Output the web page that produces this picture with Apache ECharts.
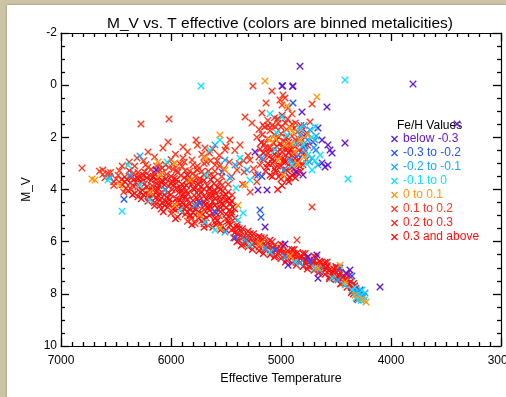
<!DOCTYPE html>
<html><head><meta charset="utf-8">
<script src="https://cdn.jsdelivr.net/npm/echarts@6/dist/echarts.min.js"></script>
<style>
html,body{margin:0;padding:0;background:#cbc5a6;width:506px;height:397px;overflow:hidden;}
#panel{position:absolute;left:7px;top:5px;width:499px;height:392px;background:#fff;box-shadow:0 0 2px rgba(0,0,0,0.35);}
#c{position:absolute;left:0;top:0;width:506px;height:397px;}
</style>
</head><body><div id="panel"></div><div id="c"></div>
<script>
const chartTitle = 'M_V vs. T effective (colors are binned metalicities)';
const xName = 'Effective Temperature';
const yName = 'M_V';
const legendTitle = 'Fe/H Values';
const binLabels = ['below -0.3','-0.3 to -0.2','-0.2 to -0.1','-0.1 to 0','0 to 0.1','0.1 to 0.2','0.2 to 0.3','0.3 and above'];
const binColors = ['#6418d8','#2458ff','#18a8ff','#10e2ff','#ff9810','#ff3a20','#ff2418','#ff1010'];

// [T_eff, M_V]
const binBelowM03 = [[4827,-0.73],[4991,0.03],[4985,0.02],[4891,0.03],[4895,0.05],[3800,-0.04],[3400,1.49],[4582,0.84],[4809,1.03],[4664,1.64],[4764,1.83],[4709,2.18],[4627,2.1],[4573,2.29],[4555,2.49],[4536,2.6],[4418,2.22],[4627,2.98],[4600,3.14],[4573,3.06],[4800,3.44],[5209,4.02],[5127,4.02],[5145,5.44],[6136,3.25],[5236,2.56],[4864,3.33],[4964,6.09],[4936,6.9],[4755,6.59],[4673,6.51],[4664,7.4],[4373,7.09],[4409,7.2],[4100,7.74]];
const binM03toM02 = [[4891,0.68],[6427,4.37],[5536,3.33],[5191,4.79],[5182,5.06],[5209,3.44],[5173,3.5],[4782,2.33],[4845,2.68],[4682,2.49],[5418,5.86],[5055,6.32],[4736,6.78],[4464,7.01],[4355,7.32],[4282,7.85],[5736,4.52],[5600,4.86]];
const binM02toM01 = [[4827,1.91],[4736,1.72],[4691,2.1],[4782,2.49],[4718,2.79],[4664,3.06],[4918,2.87],[4973,3.25],[4864,2.22],[6282,2.72],[5600,2.29],[5509,2.87],[5418,3.06],[5464,3.56],[5309,3.25],[5173,2.79],[5509,5.63],[5327,5.94],[5145,6.24],[4964,6.59],[4827,6.82],[4645,7.09],[4482,7.47],[4327,7.93],[4264,8.16],[4300,8.24],[4236,7.97],[6055,4.02],[5782,4.6],[6373,3.44],[6555,3.56],
 [4760,2.1],[4700,2.4],[4740,2.95],[4680,1.95],[4790,1.55],[4290,8.0],[4250,8.1],[4310,7.95]];
const binM01to0 = [[5727,0.03],[4418,-0.2],[5100,1.1],[4991,1.22],[5036,1.83],[4945,1.91],[4691,1.6],[4391,3.6],[6445,4.83],[6573,3.64],[6391,3.06],[6036,2.95],[5645,2.49],[5555,2.1],[5373,2.79],[5282,3.64],[5409,3.94],[5345,4.9],[5391,5.17],[5682,3.44],[4800,2.29],[4755,2.68],[5055,2.49],[4900,3.06],[4645,2.68],[4718,3.25],[5600,5.55],[5282,6.13],[5100,6.4],[4873,6.78],[4691,7.01],[4536,7.39],[4418,7.66],[4355,7.85],[4282,8.08],[4318,8.16],[4245,8.24],[4264,7.85],[6191,4.4],[5918,4.79],[5691,5.25],[6282,3.83],
 [4720,2.0],[4770,3.0],[4690,2.9],[4830,1.65],[4270,8.25],[4330,7.75]];
const bin0to01 = [[5145,-0.16],[4673,0.45],[4945,0.8],[5555,1.91],[4891,1.8],[6718,3.6],[6691,3.64],[6118,2.95],[5964,2.98],[5391,4.6],[4964,2.29],[4873,2.56],[4827,2.1],[5027,2.87],[4918,1.64],[4982,3.44],[5100,2.1],[5509,3.25],[5327,3.83],[5691,2.79],[6464,3.83],[6191,4.1],[5964,4.6],[5736,4.98],[6100,3.44],[5827,3.64],[5555,5.48],[5191,6.09],[4918,6.55],[4664,7.01],[4464,6.9],[4418,7.55],[4264,8.2],[4227,8.31],[4327,8.05],
 [4790,2.75],[4850,3.0],[4760,1.9],[5050,2.05],[4900,2.25]];
const bin01to02 = [[5255,0.03],[5082,0.22],[5136,0.68],[4982,0.38],[4936,0.88],[4718,0.72],[5173,1.07],[5327,1.22],[4736,1.41],[6273,1.49],[6018,1.3],[6809,3.18],[4718,4.67],[5264,1.45],[5164,1.53],[5027,1.45],[4900,1.1],[5009,0.57],[4964,0.49],[4991,0.76],[6027,2.18],[6073,2.41],[5891,2.37],[6209,2.56],[6309,2.79],[5891,2.79],[5809,2.87],[6445,3.1],[6573,3.37],[5773,2.1],[5691,2.41],[5509,2.49],[5464,2.1],[5373,2.29],[5282,2.87],[5191,3.06],[5600,3.06],[5536,3.83],[5445,4.21],[5236,3.44],[5336,3.33],[5760,2.3],[5720,2.65],[5680,2.95],[5620,2.45],[5560,2.7],[5500,2.35],[5470,2.95],[5540,3.5],[5400,3.25],[5340,2.9],[5650,2.6],[5580,2.9],[5520,3.2],[5450,3.5],[5380,3.0],[5300,2.7],[5250,3.2],[5420,2.5],[5350,3.8],[5280,4.1],[5220,3.7],[5600,3.3],[5480,3.8],[5700,3.0],[4855,5.94],
 [6210,3.15],[6120,3.28],[6050,3.05],[5980,3.22],[5900,3.12],[5830,3.3],[6300,3.35],[6150,3.4],
 [6480,3.45],[6420,3.52],[6340,3.38],[6260,3.6],[6190,3.48],[6110,3.55],[6040,3.42],[5970,3.58],[5910,3.46],[5850,3.62],[5780,3.5],[5700,3.44],[6560,3.5],[6620,3.42],
 [6000,4.92],[5940,5.05],[5870,4.95],[5810,5.1],[5740,4.98],[5680,5.08],[5620,4.92],[5560,5.02],[5500,5.12],[5450,4.95],
 [5850,5.22],[5780,5.3],[5720,5.2],[5660,5.38],[5600,5.25],[5540,5.42],[5480,5.3],[5430,5.5],
 [5100,1.75],[5050,1.6],[5000,1.85],[4950,1.7],[4900,1.95],[4850,1.8],[5120,2.05],[5070,2.2],[5020,2.0],[4970,2.15],[4920,2.3],[4870,2.1],[4820,2.25],
 [6380,2.95],[6330,3.1],[6250,2.9],[6150,2.75],[6100,3.05],[5960,2.65],[5920,3.0],[5850,2.55],[5800,3.05],[5700,2.75],[5640,2.9],[5560,3.1],[6230,3.05],[6000,2.85],
 [5060,1.25],[4940,1.3],[5120,1.35],[4870,1.45],[5200,1.7],[5220,2.0],
 [6650,3.3],[6600,3.55],[6550,3.35],[6500,3.6],[6470,3.28],[6620,3.25],[6520,3.85],[6360,4.0],[6430,4.1],
 [6180,3.22],[6080,3.35],[6020,3.15],[5950,3.25],[5870,3.28],[5800,3.38],[5720,3.3],[5650,3.45],[6130,3.1],[5980,3.05],[5880,2.95],[5760,3.1]];
const bin02to03 = [[6440,3.82],[6370,3.74],[6300,3.9],[6240,3.78],[6170,3.86],[6090,3.72],[6020,3.88],[5950,3.76],[5880,3.92],[5810,3.8],[5740,3.7],[5670,3.85],[5610,3.78],[6520,3.7],
 [6390,4.05],[6330,4.15],[6260,4.02],[6200,4.18],[6130,4.08],[6060,4.2],[5990,4.0],[5930,4.12],[5860,4.05],[5790,4.22],[5720,4.1],[5650,4.0],[5590,4.15],[5530,4.05],
 [6150,4.62],[6090,4.75],[6030,4.68],[5960,4.8],[5900,4.64],[5830,4.74],[5760,4.6],[5700,4.78],[5640,4.66],[5580,4.72],[5520,4.6],[5470,4.8],
 [5450,5.55],[5430,5.85],[5400,5.7],[5380,5.95],[5360,5.62],[5340,5.82],[5320,6.05],[5300,5.75],[5280,5.92],[5260,6.12],[5240,5.85],[5220,6.02],[5200,6.2],[5180,5.95],[5160,6.1],[5140,6.28],[5120,6.05],[5100,6.18],[5080,6.35],[5060,6.15],[5040,6.3],[5020,6.45],[5000,6.25],[4980,6.4],[4960,6.55],[4940,6.35],[4920,6.5],[4900,6.62],[4880,6.45],[4860,6.58],
 [5140,2.4],[5090,2.5],[5040,2.35],[4990,2.55],[4940,2.45],[4890,2.6],[4840,2.5],[5110,2.75],[5060,2.65],[5010,2.8],[4960,2.7],[4910,2.85],[4860,2.75],[5080,3.0],[5030,3.1],[4980,2.95],[4930,3.05],[4880,3.2],
 [5150,5.85],[4950,6.7],[4750,6.95],[4560,7.35],[5350,6.1],
 [6380,3.28],[6240,3.32],[6080,3.18],[5940,3.35],[5760,3.25],[5660,3.3],
 [6450,3.62],[6290,3.48],[6140,3.62],[6000,3.5],[5880,3.55],[5740,3.58],[5610,3.52],
 [6410,3.95],[6270,3.7],[6130,3.78],[5980,3.85],[5840,3.72],[5700,3.98],[5560,3.72],[6350,3.85],
 [6300,4.28],[6170,4.0],[6030,4.12],[5890,4.18],[5750,4.05],[5620,4.22],[5480,4.1],[6100,4.15],
 [5120,1.55],[5000,1.6],[4880,1.65],[5060,1.9],[4950,2.0],[4840,2.05],[5150,2.25],[5040,2.1],[4930,2.2],[4800,2.4],[5100,2.4],[4990,2.4],[4870,2.35],[5120,2.6],[5020,2.7],
 [4780,2.0],[4760,2.3],[4790,2.6],[4770,2.85],[4800,3.05],[4810,1.75],[5170,1.9],[5190,2.45],[5160,2.85],[5200,2.75],[5140,3.3],[5100,3.45],[4960,1.45],[5030,1.3],[4900,1.5],[4820,1.55],[5080,1.55],[4990,1.15],[5150,1.6],[4940,3.6],[4880,3.4],[4820,3.3],
 [5380,5.5],[5280,5.7],[5180,5.85],[5080,6.0],[4980,6.15],[4880,6.3],[4780,6.45],[4680,6.62],[4580,6.78],[4480,7.0],[4380,7.3]];
const bin03up = [[6270,4.35],[6210,4.45],[6140,4.32],[6080,4.5],[6010,4.38],[5940,4.48],[5870,4.3],[5800,4.42],[5740,4.52],[5680,4.35],[5620,4.46],[5560,4.3],[5500,4.42],
 [6180,3.65],[6120,3.95],[6060,3.82],[5990,3.68],[5920,3.98],[5860,3.85],[5790,4.0],[5730,3.9],[6040,4.3],[5970,4.58],[5900,4.25],[5830,4.55],[5760,4.35],[5690,4.6],[6100,4.4],[5850,4.85],[5780,4.75],[5710,4.95],[5650,4.8],[5590,4.9],[6250,4.2],[6330,3.6],[6400,3.62],[5640,3.62],[5580,3.9],[5520,4.25],[5460,4.55],[5420,4.75],
 [4840,6.72],[4820,6.55],[4800,6.68],[4780,6.82],[4760,6.6],[4740,6.75],[4720,6.9],[4700,6.7],[4680,6.85],[4660,7.0],[4640,6.8],[4620,6.95],[4600,7.1],[4580,6.92],[4560,7.08],[4540,7.22],[4520,7.05],[4500,7.2],[4480,7.38],[4460,7.18],[4440,7.35],[4420,7.52],[4400,7.4],[4380,7.6],[4360,7.75],[4340,7.6],[4320,7.8],[4300,7.95],[4330,7.7],[4350,7.88],
 [5420,5.65],[5370,5.78],[5310,5.9],[5250,6.0],[5190,6.08],[5130,6.18],[5070,6.25],[5010,6.35],[4950,6.45],[4890,6.55],[4830,6.62],[4770,6.72],[4710,6.8],[4650,6.92],[4590,7.02],[4530,7.15],[4470,7.28],[4410,7.45],[4370,7.55],
 [5050,3.3],[5000,3.4],[4950,3.25],[4900,3.45],[5130,3.15],[4980,2.35],[4930,2.6],[5030,2.55],[4960,2.95],[5010,2.25],[4910,2.45],[5060,2.9],[4870,2.95],[5160,2.6],[5180,2.2],[5000,3.6],[4930,3.7],[4870,3.55],[5080,3.5],[4990,3.85],[5030,4.0],
 [5050,6.55],[4850,6.42],[4650,6.75],[4450,7.6],[4500,7.0],
 [6200,4.3],[6060,4.6],[5920,4.4],[5780,4.62],[5640,4.28],[5540,4.55],[5470,4.35],[5990,4.5],
 [6070,4.85],[5930,4.72],[5800,4.88],[5660,4.7],[5550,4.85],[5440,4.68],[5870,4.62],
 [5960,5.12],[5830,5.0],[5700,5.15],[5580,5.2],[5470,5.05],[5900,4.88],
 [5810,5.35],[5700,5.45],[5590,5.35],[5500,5.55],[5460,5.35],[5750,5.1],
 [4900,2.7],[4800,2.65],[5080,2.85],[4970,2.85],[4850,2.9],[5120,3.0],[5000,3.1],[4900,3.15],[4830,3.1],[5060,3.2],[4960,3.35],[4850,3.35],[5020,3.5],[4920,3.55],
 [5400,5.45],[5350,5.5],[5300,5.6],[5250,5.7],[5200,5.8],[5100,5.95],[5000,6.1],[4900,6.3],[4800,6.45],[4700,6.55],[4600,6.8],[4500,6.95],[4400,7.25],[5400,6.0],[5300,6.2],[5200,6.35],[5100,6.5],[5000,6.65],[4900,6.82],[4800,6.95],[4700,7.1],[4600,7.25],[4500,7.45],[4400,7.75],[4300,8.1],[4280,7.9],[4340,8.0],[4450,7.45],[4550,7.3],[4650,7.15],
 [6420,3.7],[6360,3.55],[6310,3.75],[6280,4.1],[6220,3.9],[6220,3.55],[6160,4.2],[6160,3.5],[6110,3.85],[6110,4.25],[6050,3.6],[6050,4.0],[6050,4.45],[6000,3.75],[6000,4.2],[5950,3.62],[5950,3.95],[5950,4.35],[5950,4.65],[5900,3.8],[5900,4.05],[5900,4.5],[5850,3.45],[5850,4.15],[5850,4.38],[5800,3.7],[5800,3.95],[5800,4.7],[5750,3.8],[5750,4.2],[5750,4.45],[5750,4.85],[5700,3.65],[5700,4.25],[5700,4.5],[5650,3.95],[5650,4.15],[5650,4.6],[5650,5.0],[5600,4.05],[5600,4.35],[5600,4.6],[5600,5.1],[5550,4.0],[5550,4.45],[5550,4.7],[5550,5.3],[5500,4.2],[5500,4.7],[5500,4.95],[5480,5.2],[5450,4.45],[5450,4.85],[5420,5.1],[5400,5.35],[6250,3.45],[6300,3.6],[6350,4.2],[6200,4.05],[6150,4.5],[6100,4.6],[6020,4.55],[6080,3.65],[5980,4.75],[5880,4.75],[5820,5.0],[5700,5.3],[5620,5.45],[5550,5.55],
 [5360,6.15],[5260,6.3],[5160,6.45],[5060,6.6],[4960,6.78],[4860,6.9],[4760,7.05],[4660,7.2],[4560,7.42],[4460,7.62],[4360,7.95],[4310,8.2]];

const binData = [binBelowM03, binM03toM02, binM02toM01, binM01to0, bin0to01, bin01to02, bin02to03, bin03up];

const FONT = '"Liberation Sans", Arial, Helvetica, sans-serif';
const XSYM = 'path://M0,1.3L1.3,0L5,3.7L8.7,0L10,1.3L6.3,5L10,8.7L8.7,10L5,6.3L1.3,10L0,8.7L3.7,5Z';

const chart = echarts.init(document.getElementById('c'), null, {renderer:'canvas'});
const tickStyle = {color:'#000', width:1.3};
const fmt = v => String(v);
function mkAxis(extra, splitN) {
  return Object.assign({
    type:'value', inverse:true,
    axisLine:{show:true, onZero:false, lineStyle:{color:'#000', width:1.2}},
    axisTick:{show:true, inside:true, length:8, lineStyle:tickStyle},
    minorTick:{show:true, splitNumber:splitN, length:4, lineStyle:tickStyle},
    splitLine:{show:false}, minorSplitLine:{show:false}
  }, extra);
}
chart.setOption({
  animation:false,
  backgroundColor:'transparent',
  textStyle:{fontFamily:FONT},
  grid:{left:61, top:33, width:440, height:313, containLabel:false, outerBoundsMode:'none'},
  graphic:[
    {type:'text', x:280, y:24, style:{text:chartTitle, textAlign:'center', textVerticalAlign:'middle', font:'15.5px '+FONT, fill:'#000'}},
    {type:'text', x:397, y:126, style:{text:legendTitle, textAlign:'left', textVerticalAlign:'middle', font:'12px '+FONT, fill:'#000'}}
  ],
  legend:{
    orient:'vertical', left:386, top:127, itemWidth:7, itemHeight:7, itemGap:0,
    selectedMode:false, icon:XSYM,
    textStyle:{fontSize:12, fontFamily:FONT, lineHeight:14, padding:[0,0,0,0]},
    data: binLabels.map((n,i)=>({name:n, textStyle:{color:binColors[i]}}))
  },
  xAxis:[
    mkAxis({position:'bottom', min:3000, max:7000, interval:1000,
      name:xName, nameLocation:'middle', nameGap:20, nameTextStyle:{color:'#000', fontSize:12.5, fontFamily:FONT},
      axisLabel:{color:'#000', fontSize:12, margin:9, fontFamily:FONT, formatter:fmt}}, 10),
    mkAxis({position:'top', min:3000, max:7000, interval:1000, axisLabel:{show:false}}, 10)
  ],
  yAxis:[
    mkAxis({position:'left', min:-2, max:10, interval:2,
      name:yName, nameLocation:'middle', nameGap:19, nameRotate:90, nameTextStyle:{color:'#000', fontSize:12, fontFamily:FONT},
      axisLabel:{color:'#000', fontSize:12, margin:4, fontFamily:FONT, formatter:fmt}}, 4),
    mkAxis({position:'right', min:-2, max:10, interval:2, axisLabel:{show:false}}, 4)
  ],
  series: binLabels.map((n,i)=>({
    type:'scatter', name:n, data:binData[i], xAxisIndex:0, yAxisIndex:0,
    symbol:XSYM, symbolSize:7.5, silent:true, z: i >= 5 ? 2 : 3,
    itemStyle:{color:binColors[i], opacity:1}
  }))
});
</script>
</body></html>
